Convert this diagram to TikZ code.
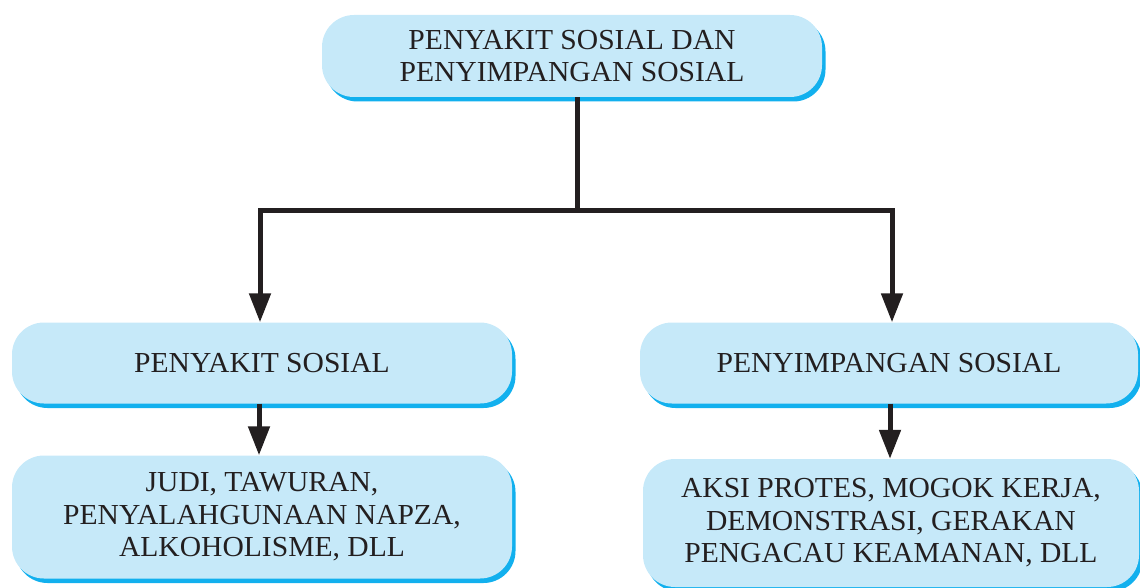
\documentclass[tikz,border=0pt]{standalone}
\usepackage{fontspec}
\setmainfont[FakeStretch=1.02]{Liberation Serif}
\usepackage{xcolor}
\usetikzlibrary{shapes,arrows.meta,positioning,shadows,calc}
\definecolor{boxfill}{HTML}{C6E9F9}
\definecolor{boxshade}{HTML}{12B0EE}
\definecolor{ink}{HTML}{231F20}

\begin{document}
\begin{tikzpicture}[x=1pt, y=-1pt, font=\fontsize{29}{32.5}\selectfont, text=ink,
    box/.style={rectangle, rounded corners=32pt, fill=boxfill, align=center, inner sep=0pt,
        drop shadow={shadow xshift=3.5pt, shadow yshift=-4.5pt, fill=boxshade, opacity=1}},
    conn/.style={draw=ink, line width=5pt},
    arr/.style={conn, -{Triangle[width=21pt,length=29pt]}}]
    \useasboundingbox (0,0) rectangle (1140,588);
    % kotak utama
    \node (top) at (572,56) [box, minimum width=500pt, minimum height=82pt]
        {PENYAKIT SOSIAL DAN\\PENYIMPANGAN SOSIAL};
    \node (sakit) at (262,363) [box, minimum width=500pt, minimum height=81pt] {PENYAKIT SOSIAL};
    \node (simpang) at (889,363) [box, minimum width=498pt, minimum height=81pt] {PENYIMPANGAN SOSIAL};
    \node (judi) at (262,517) [box, minimum width=500pt, minimum height=123pt]
        {JUDI, TAWURAN,\\PENYALAHGUNAAN NAPZA,\\ALKOHOLISME, DLL};
    \node (aksi) at (891,523) [box, minimum width=496pt, minimum height=128pt]
        {AKSI PROTES, MOGOK KERJA,\\DEMONSTRASI, GERAKAN\\PENGACAU KEAMANAN, DLL};
    % percabangan
    \coordinate (split) at (577,211);
    \coordinate (jl) at (260,211);
    \coordinate (jr) at (892,211);
    \draw[conn] ([xshift=5pt]top.south) -- (split);
    \draw[arr] (split) -- (jl) -- (jl |- sakit.north);
    \draw[arr] (split) -- (jr) -- (jr |- simpang.north);
    \draw[arr] ([xshift=-3pt]sakit.south) -- ([xshift=-3pt]sakit.south |- judi.north);
    \draw[arr] ([xshift=1pt]simpang.south) -- ([xshift=1pt]simpang.south |- aksi.north);
\end{tikzpicture}
\end{document}
